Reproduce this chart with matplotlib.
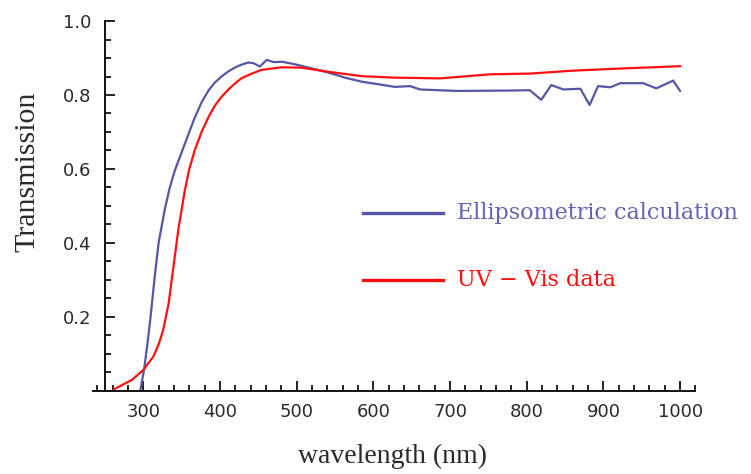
import matplotlib
matplotlib.use("Agg")
import matplotlib.pyplot as plt
from matplotlib.ticker import MultipleLocator, FixedLocator

# ellipsometric calculation (blue)
ell_wl = [296, 301, 305, 309, 315, 320, 328, 334, 341, 352, 360, 367, 376, 385,
          393, 402, 411, 420, 428, 437, 444, 452, 461, 470, 481, 498, 520, 541,
          563, 585, 607, 628, 648, 661, 709, 774, 804, 819, 832, 848, 870, 882,
          893, 909, 922, 952, 969, 991, 1000]
ell_tr = [0.0, 0.056, 0.12, 0.190, 0.310, 0.400, 0.490, 0.545, 0.595, 0.656,
          0.700, 0.738, 0.780, 0.812, 0.833, 0.850, 0.864, 0.875, 0.882, 0.888,
          0.886, 0.877, 0.895, 0.889, 0.890, 0.883, 0.872, 0.861, 0.847, 0.836,
          0.829, 0.822, 0.824, 0.815, 0.811, 0.812, 0.813, 0.787, 0.827, 0.815,
          0.817, 0.773, 0.824, 0.821, 0.832, 0.832, 0.818, 0.839, 0.811]

# UV-Vis data (red)
uv_wl = [262, 272, 285, 300, 313, 320, 326, 333, 339, 346, 354, 360, 367, 376,
         385, 393, 402, 411, 420, 428, 437, 454, 480, 506, 541, 585, 628, 687,
         752, 804, 861, 926, 1000]
uv_tr = [0.004, 0.015, 0.029, 0.056, 0.092, 0.125, 0.165, 0.235, 0.330, 0.440,
         0.540, 0.600, 0.650, 0.700, 0.740, 0.770, 0.795, 0.815, 0.832, 0.845,
         0.854, 0.868, 0.875, 0.874, 0.863, 0.851, 0.847, 0.845, 0.856, 0.858,
         0.866, 0.872, 0.878]

x_major = [300, 400, 500, 600, 700, 800, 900, 1000]
y_major = [0.2, 0.4, 0.6, 0.8, 1.0]

BLUE = "#5656a6"
RED = "#ff1010"
INK = "#2a2a2a"

fig = plt.figure(figsize=(7.51, 4.74), dpi=100)
ax = fig.add_axes([0.1244, 0.1757, 0.8016, 0.7798])

ax.plot(ell_wl, ell_tr, color=BLUE, lw=1.6)
ax.plot(uv_wl, uv_tr, color=RED, lw=1.6)

ax.set_xlim(235, 1020)
ax.set_ylim(0, 1.0)

ax.spines["top"].set_visible(False)
ax.spines["right"].set_visible(False)
ax.spines["left"].set_position(("data", 250))
ax.spines["bottom"].set_position(("data", 0))
for s in ("left", "bottom"):
    ax.spines[s].set_linewidth(1.4)
    ax.spines[s].set_color("#111111")

ax.xaxis.set_major_locator(FixedLocator(x_major))
ax.xaxis.set_minor_locator(MultipleLocator(20))
ax.yaxis.set_major_locator(FixedLocator(y_major))
ax.yaxis.set_minor_locator(MultipleLocator(0.05))
ax.set_yticklabels(["0.2", "0.4", "0.6", "0.8", "1.0"])

ax.tick_params(which="both", direction="in", color="#111111", width=1.3)
ax.tick_params(which="major", length=7)
ax.tick_params(which="minor", length=4)
ax.tick_params(axis="both", labelsize=13, labelcolor=INK)
ax.tick_params(axis="x", pad=9)
ax.tick_params(axis="y", pad=10)
for lab in ax.get_xticklabels() + ax.get_yticklabels():
    lab.set_family("DejaVu Sans")

serif = "Liberation Serif"
fig.text(0.037, 0.637, "Transmission", rotation=90, ha="center", va="center",
         fontsize=21.5, family=serif, color=INK)
fig.text(0.522, 0.038, "wavelength (nm)", ha="center", va="center",
         fontsize=20, family=serif, color=INK)

# legend drawn by hand, like the Mathematica original
fig.add_artist(plt.Line2D([363 / 751, 443 / 751], [1 - 213 / 474] * 2,
                          color=BLUE, lw=2.4))
fig.add_artist(plt.Line2D([363 / 751, 443 / 751], [1 - 280 / 474] * 2,
                          color=RED, lw=2.4))
fig.text(457 / 751, 1 - 213 / 474, "Ellipsometric calculation", ha="left",
         va="center", fontsize=16, family="DejaVu Serif", color="#6464b4")
fig.text(457 / 751, 1 - 280 / 474, "UV \u2212 Vis data", ha="left",
         va="center", fontsize=16, family="DejaVu Serif", color=RED)

fig.savefig("out.png", dpi=100)
